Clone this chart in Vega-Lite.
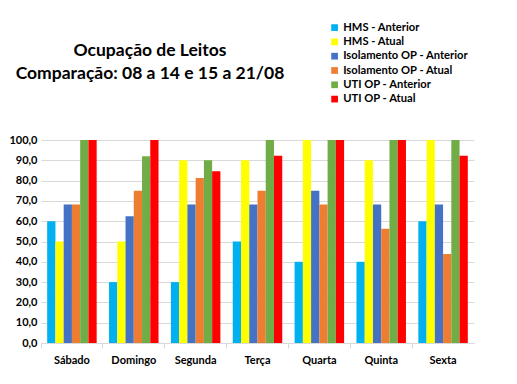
{
  "$schema": "https://vega.github.io/schema/vega-lite/v6.json",
  "width": 433,
  "height": 203,
  "autosize": {"type": "none"},
  "padding": {"left": 41, "top": 140, "right": 43, "bottom": 41},
  "background": "white",
  "config": {
    "locale": {"number": {"decimal": ",", "thousands": ".", "grouping": [3], "currency": ["R$", ""]}},
    "view": {"stroke": null},
    "font": "Lato"
  },
  "title": {
    "text": ["Ocupação de Leitos", "Comparação: 08 a 14 e 15 a 21/08"],
    "anchor": "start",
    "frame": "group",
    "align": "center",
    "dx": 109,
    "offset": -60,
    "fontSize": 17.5,
    "fontWeight": "bold",
    "font": "Lato",
    "lineHeight": 23,
    "color": "#000000"
  },
  "data": {
    "values": [
      {"dia": "Sábado", "serie": "HMS - Anterior", "valor": 60},
      {"dia": "Sábado", "serie": "HMS - Atual", "valor": 50},
      {"dia": "Sábado", "serie": "Isolamento OP - Anterior", "valor": 68.2},
      {"dia": "Sábado", "serie": "Isolamento OP - Atual", "valor": 68.2},
      {"dia": "Sábado", "serie": "UTI OP - Anterior", "valor": 100},
      {"dia": "Sábado", "serie": "UTI OP - Atual", "valor": 100},
      {"dia": "Domingo", "serie": "HMS - Anterior", "valor": 30},
      {"dia": "Domingo", "serie": "HMS - Atual", "valor": 50},
      {"dia": "Domingo", "serie": "Isolamento OP - Anterior", "valor": 62.5},
      {"dia": "Domingo", "serie": "Isolamento OP - Atual", "valor": 75},
      {"dia": "Domingo", "serie": "UTI OP - Anterior", "valor": 92},
      {"dia": "Domingo", "serie": "UTI OP - Atual", "valor": 100},
      {"dia": "Segunda", "serie": "HMS - Anterior", "valor": 30},
      {"dia": "Segunda", "serie": "HMS - Atual", "valor": 90},
      {"dia": "Segunda", "serie": "Isolamento OP - Anterior", "valor": 68.2},
      {"dia": "Segunda", "serie": "Isolamento OP - Atual", "valor": 81.3},
      {"dia": "Segunda", "serie": "UTI OP - Anterior", "valor": 90},
      {"dia": "Segunda", "serie": "UTI OP - Atual", "valor": 84.6},
      {"dia": "Terça", "serie": "HMS - Anterior", "valor": 50},
      {"dia": "Terça", "serie": "HMS - Atual", "valor": 90},
      {"dia": "Terça", "serie": "Isolamento OP - Anterior", "valor": 68.2},
      {"dia": "Terça", "serie": "Isolamento OP - Atual", "valor": 75},
      {"dia": "Terça", "serie": "UTI OP - Anterior", "valor": 100},
      {"dia": "Terça", "serie": "UTI OP - Atual", "valor": 92.3},
      {"dia": "Quarta", "serie": "HMS - Anterior", "valor": 40},
      {"dia": "Quarta", "serie": "HMS - Atual", "valor": 100},
      {"dia": "Quarta", "serie": "Isolamento OP - Anterior", "valor": 75},
      {"dia": "Quarta", "serie": "Isolamento OP - Atual", "valor": 68.2},
      {"dia": "Quarta", "serie": "UTI OP - Anterior", "valor": 100},
      {"dia": "Quarta", "serie": "UTI OP - Atual", "valor": 100},
      {"dia": "Quinta", "serie": "HMS - Anterior", "valor": 40},
      {"dia": "Quinta", "serie": "HMS - Atual", "valor": 90},
      {"dia": "Quinta", "serie": "Isolamento OP - Anterior", "valor": 68.2},
      {"dia": "Quinta", "serie": "Isolamento OP - Atual", "valor": 56.3},
      {"dia": "Quinta", "serie": "UTI OP - Anterior", "valor": 100},
      {"dia": "Quinta", "serie": "UTI OP - Atual", "valor": 100},
      {"dia": "Sexta", "serie": "HMS - Anterior", "valor": 60},
      {"dia": "Sexta", "serie": "HMS - Atual", "valor": 100},
      {"dia": "Sexta", "serie": "Isolamento OP - Anterior", "valor": 68.2},
      {"dia": "Sexta", "serie": "Isolamento OP - Atual", "valor": 43.8},
      {"dia": "Sexta", "serie": "UTI OP - Anterior", "valor": 100},
      {"dia": "Sexta", "serie": "UTI OP - Atual", "valor": 92.3}
    ]
  },
  "mark": {"type": "bar"},
  "encoding": {
    "x": {
      "field": "dia",
      "type": "nominal",
      "sort": ["Sábado", "Domingo", "Segunda", "Terça", "Quarta", "Quinta", "Sexta"],
      "scale": {"paddingInner": 0.2, "paddingOuter": 0.1},
      "axis": {
        "title": null,
        "labelAngle": 0,
        "labelFontWeight": "bold",
        "labelFontSize": 11,
        "labelColor": "#000000",
        "labelPadding": 6,
        "domainColor": "#d9d9d9",
        "tickColor": "#d9d9d9",
        "tickSize": 5,
        "bandPosition": -0.125,
        "grid": false
      }
    },
    "xOffset": {
      "field": "serie",
      "type": "nominal",
      "sort": ["HMS - Anterior", "HMS - Atual", "Isolamento OP - Anterior", "Isolamento OP - Atual", "UTI OP - Anterior", "UTI OP - Atual"],
      "scale": {"paddingInner": 0, "paddingOuter": 0}
    },
    "y": {
      "field": "valor",
      "type": "quantitative",
      "scale": {"domain": [0, 100], "nice": false},
      "axis": {
        "title": null,
        "values": [0, 10, 20, 30, 40, 50, 60, 70, 80, 90, 100],
        "format": ".1f",
        "domain": false,
        "ticks": false,
        "labelFontWeight": "bold",
        "labelFontSize": 11,
        "labelColor": "#000000",
        "labelPadding": 4,
        "gridColor": "#d9d9d9"
      }
    },
    "color": {
      "field": "serie",
      "type": "nominal",
      "sort": ["HMS - Anterior", "HMS - Atual", "Isolamento OP - Anterior", "Isolamento OP - Atual", "UTI OP - Anterior", "UTI OP - Atual"],
      "scale": {
        "domain": ["HMS - Anterior", "HMS - Atual", "Isolamento OP - Anterior", "Isolamento OP - Atual", "UTI OP - Anterior", "UTI OP - Atual"],
        "range": ["#00B0F0", "#FFFF00", "#4472C4", "#ED7D31", "#70AD47", "#FF0000"]
      },
      "legend": {
        "title": null,
        "orient": "none",
        "legendX": 288,
        "legendY": -118,
        "padding": 0,
        "symbolType": "square",
        "symbolSize": 45,
        "symbolStrokeWidth": 0,
        "labelFontSize": 11.2,
        "labelFontWeight": "bold",
        "labelColor": "#000000",
        "labelOffset": 3,
        "rowPadding": 2.3
      }
    }
  }
}
